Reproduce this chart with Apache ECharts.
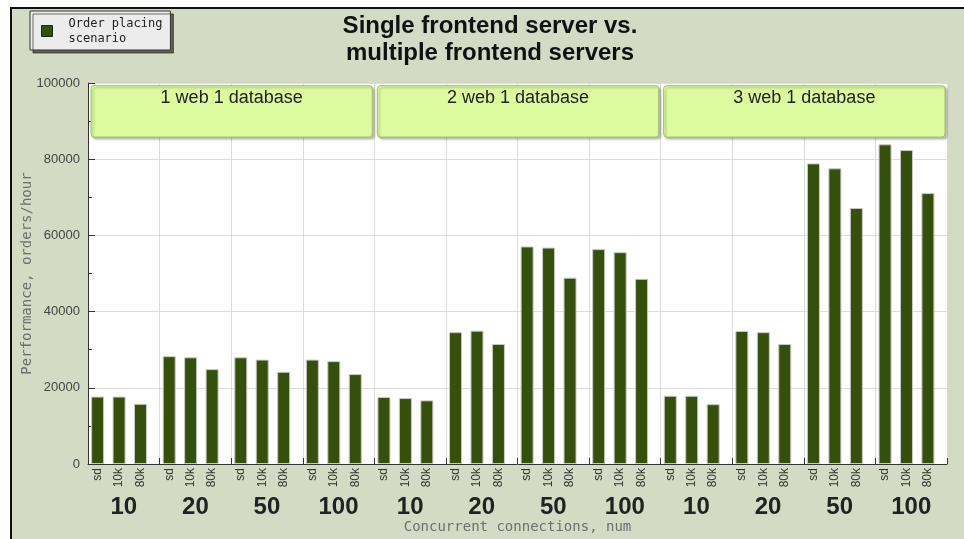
<!DOCTYPE html>
<html>
<head>
<meta charset="utf-8">
<script src="https://cdn.jsdelivr.net/npm/echarts@6/dist/echarts.min.js"></script>
<style>
  html, body { margin: 0; padding: 0; background: #fff; overflow: hidden; }
  #frame {
    position: absolute; left: 10px; top: 7px; width: 970px; height: 550px;
    border-left: 2px solid #111; border-top: 2px solid #111;
    background: #d3dbc4;
  }
  #chart { position: absolute; left: 0; top: 0; width: 964px; height: 539px; }
</style>
</head>
<body>
<div id="frame"></div>
<div id="chart"></div>
<script>
// connection counts per setup
const categories = ['10', '20', '50', '100', '10', '20', '50', '100', '10', '20', '50', '100'];
const subLabels = ['sd', '10k', '80k'];
const sdValues = [17700, 28300, 28000, 27400, 17600, 34600, 57100, 56400, 17900, 34900, 78900, 83900];
const k10Values = [17700, 28000, 27400, 27000, 17300, 35000, 56800, 55600, 17900, 34600, 77600, 82400];
const k80Values = [15800, 24900, 24200, 23600, 16700, 31500, 48900, 48600, 15700, 31500, 67200, 71100];
const setupNames = ['1 web 1 database', '2 web 1 database', '3 web 1 database'];
const setupFrom = [0, 4, 8];
const setupTo = [3, 7, 11];
const yTicks = [0, 20000, 40000, 60000, 80000, 100000];

const seriesName = 'Order placing scenario';
const barColor = '#34500a';
const mono = '"DejaVu Sans Mono", monospace';
const sans = '"Liberation Sans", Arial, sans-serif';

const chart = echarts.init(document.getElementById('chart'));

function barSeries(values, idx) {
  return {
    name: seriesName,
    type: 'bar',
    data: values,
    barWidth: 13,
    barGap: '65%',
    itemStyle: { color: barColor, borderColor: '#c8c8c8', borderWidth: 1 },
    label: {
      show: true,
      position: 'bottom',
      distance: 4,
      rotate: 90,
      align: 'right',
      verticalAlign: 'middle',
      formatter: subLabels[idx],
      color: '#333',
      fontSize: 12,
      fontFamily: sans,
    },
    emphasis: { disabled: true },
  };
}

// group boxes drawn through the axes
function renderBox(params, api) {
  const band = api.size([1, 0])[0];
  const p0 = api.coord([api.value(0), 99300]);
  const p1 = api.coord([api.value(1), 85800]);
  const x0 = p0[0] - band / 2 + 3;
  const x1 = p1[0] + band / 2 - 2;
  return {
    type: 'group',
    children: [
      {
        type: 'rect',
        shape: { x: x0, y: p0[1], width: x1 - x0, height: p1[1] - p0[1], r: 3 },
        style: {
          fill: '#dbfb9e', stroke: '#9fbb66', lineWidth: 1,
          shadowColor: 'rgba(0,0,0,0.25)', shadowBlur: 2, shadowOffsetX: 2, shadowOffsetY: 2,
        },
      },
      {
        type: 'text',
        style: {
          text: setupNames[params.dataIndex],
          x: (x0 + x1) / 2, y: p0[1] + 3,
          align: 'center', verticalAlign: 'top',
          fill: '#222', font: '18px ' + sans,
        },
      },
    ],
  };
}

chart.setOption({
  animation: false,
  title: {
    text: 'Single frontend server vs.\nmultiple frontend servers',
    left: 485,
    top: 8,
    textAlign: 'center',
    textStyle: { fontSize: 24, fontWeight: 'bold', fontFamily: sans, color: '#111', lineHeight: 27 },
  },
  legend: {
    left: 30,
    top: 11,
    orient: 'vertical',
    data: [{ name: seriesName, icon: 'rect' }],
    itemWidth: 11,
    itemHeight: 11,
    itemStyle: { color: barColor, borderColor: '#222', borderWidth: 1 },
    padding: [5, 8, 4, 11],
    backgroundColor: '#ececec',
    borderColor: '#333',
    borderWidth: 1,
    shadowColor: 'rgba(0,0,0,0.55)',
    shadowOffsetX: 3,
    shadowOffsetY: 3,
    shadowBlur: 0,
    selectedMode: false,
    formatter: (n) => n.replace(' scenario', '\nscenario'),
    textStyle: { fontFamily: mono, fontSize: 12, color: '#222', lineHeight: 15, padding: [0, 0, 0, 11] },
  },
  grid: {
    left: 88, right: 17, top: 83, bottom: 75,
    outerBoundsMode: 'none',
    show: true, backgroundColor: '#fff', borderWidth: 0,
  },
  xAxis: {
    type: 'category',
    data: categories,
    name: 'Concurrent connections, num',
    nameLocation: 'middle',
    nameGap: 56,
    nameMoveOverlap: false,
    nameTextStyle: { fontFamily: mono, fontSize: 14, color: '#6e6e6e' },
    axisLine: { lineStyle: { color: '#333' } },
    axisTick: { show: true, inside: true, length: 6, lineStyle: { color: '#333' } },
    axisLabel: { margin: 31, fontSize: 24, fontWeight: 'bold', fontFamily: sans, color: '#222' },
    splitLine: { show: true, lineStyle: { color: '#dcdcdc' } },
  },
  yAxis: {
    type: 'value',
    min: yTicks[0],
    max: yTicks[yTicks.length - 1],
    interval: yTicks[1] - yTicks[0],
    name: 'Performance, orders/hour',
    nameLocation: 'middle',
    nameRotate: 90,
    nameGap: 54,
    nameMoveOverlap: false,
    nameTextStyle: { fontFamily: mono, fontSize: 14, color: '#6e6e6e' },
    axisLine: { show: true, lineStyle: { color: '#333' } },
    axisTick: { show: true, inside: true, length: 7, lineStyle: { color: '#333' } },
    minorTick: { show: true, splitNumber: 2, length: 4, lineStyle: { color: '#333' } },
    axisLabel: { margin: 8, fontSize: 13, fontFamily: sans, color: '#444', formatter: (v) => String(v) },
    splitLine: { show: true, lineStyle: { color: '#dcdcdc' } },
  },
  series: [
    barSeries(sdValues, 0),
    barSeries(k10Values, 1),
    barSeries(k80Values, 2),
    // spacer keeps the three bars to the left of each slot
    { name: 'spacer', type: 'bar', data: [], barWidth: 0.01 },
    {
      name: 'setups',
      type: 'custom',
      renderItem: renderBox,
      data: setupFrom.map((f, i) => [f, setupTo[i]]),
      clip: false,
      z: 5,
      silent: true,
    },
  ],
});

window.addEventListener('resize', () => chart.resize());
</script>
</body>
</html>
